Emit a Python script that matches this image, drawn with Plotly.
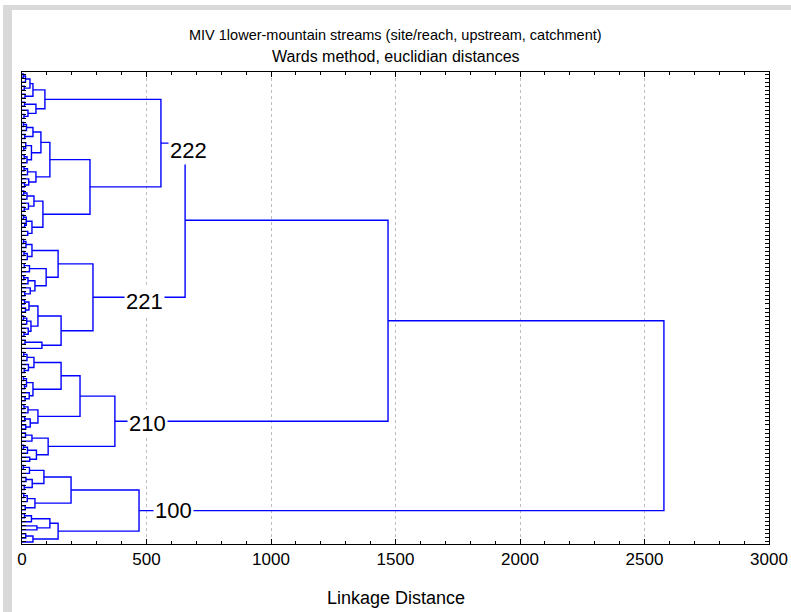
import plotly.graph_objects as go

L = 0  # one case (a leaf of the tree)

# Each node: (linkage distance, upper branch, lower branch)
cluster_222 = (558,
    (92,
        (44, (32, (14, (5, L, L), L), (9, L, L)), (12, L, L)),
        (56, (10, L, L), (24, L, (8, L, L)))),
    (273,
        (112,
            (76,
                (44, (18, (6, L, L), L), (11, L, L)),
                (38, (15, L, (7, L, L)), (20, (9, L, L), L))),
            (56, (22, (8, L, L), L), (27, L, (10, L, L)))),
        (84,
            (48, (20, (7, L, L), L), (26, L, (9, L, L))),
            (40, (17, (6, L, L), (11, L, L)), (23, L, L)))))

cluster_221 = (285,
    (145,
        (40, (16, (6, L, L), L), (21, (8, L, L), L)),
        (97, (30, (9, L, L), L), (52, (24, (7, L, L), L), (33, L, (11, L, L))))),
    (157,
        (64, (28, (10, L, L), (14, L, L)), (36, (19, (6, L, L), L), (25, L, (8, L, L)))),
        (80, (12, L, L), L)))

cluster_210 = (373,
    (233,
        (157,
            (48, (20, (7, L, L), L), (26, L, (9, L, L))),
            (44, (18, (6, L, L), (10, L, L)), (29, L, (12, L, L)))),
        (64, (24, (8, L, L), L), (33, (11, L, L), (15, L, L)))),
    (105,
        (40, (14, L, L), L),
        (58, (22, (6, L, L), L), (31, L, L))))

cluster_100 = (470,
    (197,
        (88, (30, (5, L, L), L), (41, (16, L, L), (9, L, L))),
        (52, (21, (7, L, L), L), (13, L, L))),
    (145,
        (112, (38, (10, L, L), L), (60, L, L)),
        (44, (15, L, L), L)))

join_222_221 = 655
join_with_210 = 1470
join_all = 2578

cluster_names = ["222", "221", "210", "100"]
name_distance = [667, 490, 506, 610]
x_ticks = [0, 500, 1000, 1500, 2000, 2500, 3000]

named = [cluster_222, cluster_221, cluster_210, cluster_100]
tree = (join_all,
        (join_with_210, (join_222_221, cluster_222, cluster_221), cluster_210),
        cluster_100)

xs, ys = [], []
pos = {}
counter = [0]


def place(node):
    if not isinstance(node, tuple):
        i = counter[0]
        counter[0] += 1
        return float(i), 0.0
    h, a, b = node
    ya, ha = place(a)
    yb, hb = place(b)
    xs.extend([ha, h, h, hb, None])
    ys.extend([ya, ya, yb, yb, None])
    y = (ya + yb) / 2
    pos[id(node)] = (y, h)
    return y, h


place(tree)
n_cases = counter[0]

fig = go.Figure()
fig.add_trace(go.Scatter(x=xs, y=ys, mode="lines",
                         line=dict(color="#0000ff", width=1.4),
                         hoverinfo="skip", showlegend=False))

font_family = "Liberation Sans, Arial"
label_shift = [-7, -4, -2, 0]

annotations = []
for name, node, xd, sh in zip(cluster_names, named, name_distance, label_shift):
    y, _ = pos[id(node)]
    annotations.append(dict(x=xd, y=y, xref="x", yref="y", text=name,
                            showarrow=False, xanchor="center", yanchor="middle",
                            yshift=sh, bgcolor="white", borderpad=1,
                            font=dict(family=font_family, size=22, color="black")))

annotations += [
    dict(x=0.5, y=(544 - 35) / 472, xref="paper", yref="paper",
         text="MIV 1lower-mountain streams (site/reach, upstream, catchment)",
         showarrow=False, xanchor="center", yanchor="middle",
         font=dict(family=font_family, size=14.5, color="black")),
    dict(x=0.5, y=(544 - 57) / 472, xref="paper", yref="paper",
         text="Wards method, euclidian distances",
         showarrow=False, xanchor="center", yanchor="middle",
         font=dict(family=font_family, size=16, color="black")),
    dict(x=0.5, y=(544 - 598) / 472, xref="paper", yref="paper",
         text="Linkage Distance", showarrow=False,
         xanchor="center", yanchor="middle",
         font=dict(family=font_family, size=18, color="black")),
]

# grey page edge on the left and top
shapes = [
    dict(type="rect", xref="paper", yref="paper",
         x0=(3 - 22) / 747, x1=(12 - 22) / 747,
         y0=(544 - 612) / 472, y1=(544 - 5) / 472,
         fillcolor="#d9d9d9", line=dict(width=0), layer="below"),
    dict(type="rect", xref="paper", yref="paper",
         x0=(3 - 22) / 747, x1=(791 - 22) / 747,
         y0=(544 - 10) / 472, y1=(544 - 5) / 472,
         fillcolor="#d9d9d9", line=dict(width=0), layer="below"),
]

fig.update_layout(
    width=791, height=612,
    margin=dict(l=22, r=22, t=72, b=68, autoexpand=False),
    paper_bgcolor="white", plot_bgcolor="white",
    annotations=annotations, shapes=shapes,
    xaxis=dict(range=[0, 3000], tickvals=x_ticks, ticks="inside", ticklen=5,
               tickcolor="black", showline=True, linecolor="black", linewidth=1,
               mirror="ticks", showgrid=True, gridcolor="#bdbdbd",
               griddash="dot", gridwidth=1, zeroline=False,
               automargin=False, ticklabeloverflow="allow",
               minor=dict(dtick=100, ticks="inside", ticklen=3,
                          tickcolor="black", showgrid=False),
               tickfont=dict(family=font_family, size=17, color="black")),
    yaxis=dict(range=[n_cases - 0.5, -0.5], tickvals=list(range(n_cases)),
               showticklabels=False, ticks="inside", ticklen=4,
               tickcolor="black", showline=True, linecolor="black",
               linewidth=1, mirror="ticks", showgrid=False, zeroline=False,
               automargin=False),
)

fig.write_html("out.html")
